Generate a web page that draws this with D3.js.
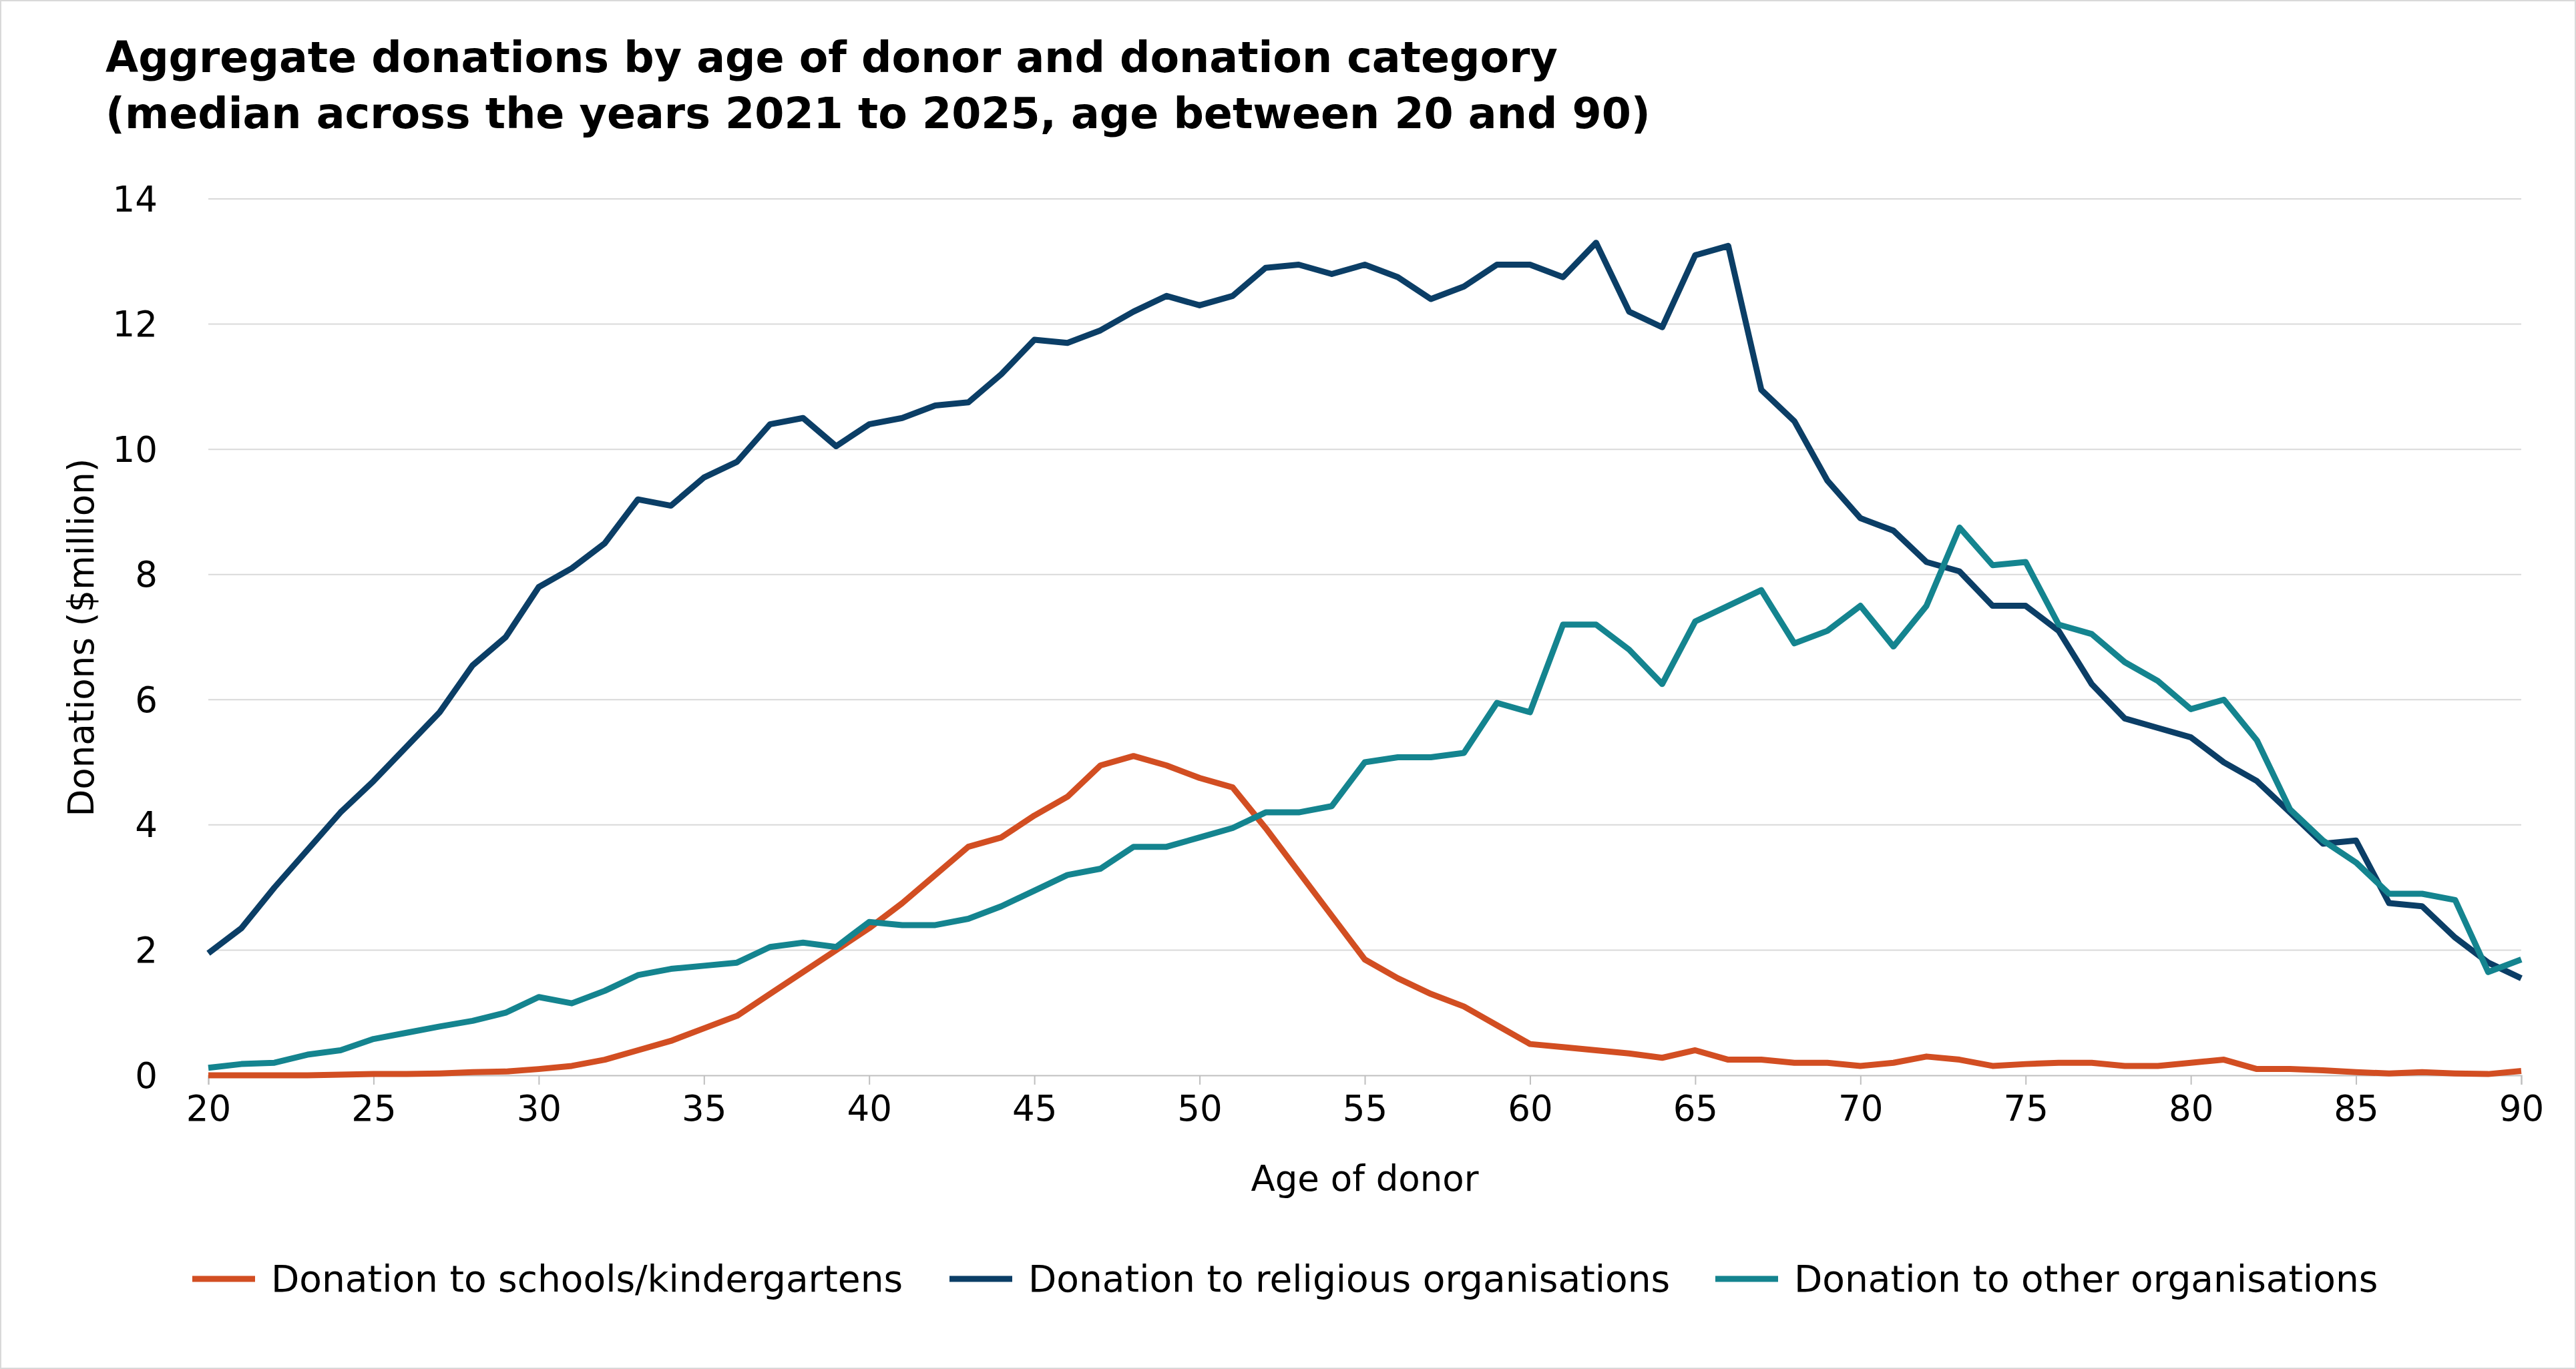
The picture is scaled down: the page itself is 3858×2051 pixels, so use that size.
<!DOCTYPE html>
<html>
<head>
<style>
  body { margin: 0; background: #fff; font-family: "DejaVu Sans", Verdana, sans-serif; }
  .grid line { stroke: #d9d9d9; stroke-width: 2px; }
  .line { fill: none; stroke-width: 9px; stroke-linejoin: round; }
</style>
</head>
<body>
<svg id="chart" width="3858" height="2051"></svg>
<script src="https://d3js.org/d3.v7.min.js"></script>
<script>
var ages = d3.range(20, 91);
var schools = [0,0,0,0,0.01,0.02,0.02,0.03,0.05,0.06,0.1,0.15,0.25,0.4,0.55,0.75,0.95,1.3,1.65,2.0,
  2.35,2.75,3.2,3.65,3.8,4.15,4.45,4.95,5.1,4.95,4.75,4.6,3.95,3.25,2.55,1.85,1.55,1.3,1.1,0.8,
  0.5,0.45,0.4,0.35,0.28,0.4,0.25,0.25,0.2,0.2,0.15,0.2,0.3,0.25,0.15,0.18,0.2,0.2,0.15,0.15,
  0.2,0.25,0.1,0.1,0.08,0.05,0.03,0.05,0.03,0.02,0.07];
var religious = [1.95,2.35,3.0,3.6,4.2,4.7,5.25,5.8,6.55,7.0,7.8,8.1,8.5,9.2,9.1,9.55,9.8,10.4,10.5,10.05,
  10.4,10.5,10.7,10.75,11.2,11.75,11.7,11.9,12.2,12.45,12.3,12.45,12.9,12.95,12.8,12.95,12.75,12.4,12.6,12.95,
  12.95,12.75,13.3,12.2,11.95,13.1,13.25,10.95,10.45,9.5,8.9,8.7,8.2,8.05,7.5,7.5,7.1,6.25,5.7,5.55,
  5.4,5.0,4.7,4.2,3.7,3.75,2.75,2.7,2.2,1.8,1.55];
var other = [0.12,0.18,0.2,0.33,0.4,0.58,0.68,0.78,0.87,1.0,1.25,1.15,1.35,1.6,1.7,1.75,1.8,2.05,2.12,2.05,
  2.45,2.4,2.4,2.5,2.7,2.95,3.2,3.3,3.65,3.65,3.8,3.95,4.2,4.2,4.3,5.0,5.08,5.08,5.15,5.95,
  5.8,7.2,7.2,6.8,6.25,7.25,7.5,7.75,6.9,7.1,7.5,6.85,7.5,8.75,8.15,8.2,7.2,7.05,6.6,6.3,
  5.85,6.0,5.35,4.25,3.75,3.4,2.9,2.9,2.8,1.65,1.85];
var seriesNames = ["Donation to schools/kindergartens", "Donation to religious organisations", "Donation to other organisations"];
var seriesColors = ["#d24e22", "#0b3e66", "#14848f"];
var yTicks = [0, 2, 4, 6, 8, 10, 12, 14];
var xTicks = [20, 25, 30, 35, 40, 45, 50, 55, 60, 65, 70, 75, 80, 85, 90];

var svg = d3.select("#chart");
svg.append("rect").attr("x", 1).attr("y", 1).attr("width", 3856).attr("height", 2049)
  .attr("fill", "#fff").attr("stroke", "#d9d9d9").attr("stroke-width", 2);

var x = d3.scaleLinear().domain([20, 90]).range([312, 3776]);
var y = d3.scaleLinear().domain([0, 14]).range([1611, 298]);

// title
var title = svg.append("text").attr("x", 158).attr("font-size", 63.5).attr("font-weight", "bold").attr("fill", "#000");
title.append("tspan").attr("x", 158).attr("y", 108).text("Aggregate donations by age of donor and donation category");
title.append("tspan").attr("x", 158).attr("y", 192).text("(median across the years 2021 to 2025, age between 20 and 90)");

// gridlines
svg.append("g").attr("class", "grid").selectAll("line").data(yTicks.slice(1)).join("line")
  .attr("x1", 312).attr("x2", 3776).attr("y1", d => y(d)).attr("y2", d => y(d));

// y axis labels
svg.append("g").selectAll("text").data(yTicks).join("text")
  .attr("x", 236).attr("y", d => y(d)).attr("dy", "0.35em").attr("text-anchor", "end")
  .attr("font-size", 53).attr("fill", "#000").text(d => d);

// x axis
var xAxis = svg.append("g").attr("transform", "translate(0," + y(0) + ")")
  .call(d3.axisBottom(x).tickValues(xTicks).tickSize(14).tickPadding(16));
xAxis.select(".domain").attr("stroke", "#bfbfbf").attr("stroke-width", 2);
xAxis.selectAll(".tick line").attr("stroke", "#bfbfbf").attr("stroke-width", 2);
xAxis.selectAll("text").attr("font-size", 53).attr("font-family", "DejaVu Sans, Verdana, sans-serif").attr("fill", "#000");

// axis titles
svg.append("text").attr("x", (312 + 3776) / 2).attr("y", 1784).attr("text-anchor", "middle")
  .attr("font-size", 53).text("Age of donor");
svg.append("text").attr("transform", "translate(140,955) rotate(-90)").attr("text-anchor", "middle")
  .attr("font-size", 53).text("Donations ($million)");

// lines
var line = d3.line().x((d, i) => x(ages[i])).y(d => y(d));
[schools, religious, other].forEach(function (s, i) {
  svg.append("path").datum(s).attr("class", "line").attr("stroke", seriesColors[i]).attr("d", line);
});

// legend
var legX = [288, 1422, 2569];
var leg = svg.append("g").selectAll("g").data(seriesNames).join("g")
  .attr("transform", (d, i) => "translate(" + legX[i] + ",1916)");
leg.append("line").attr("x1", 0).attr("x2", 94).attr("stroke", (d, i) => seriesColors[i]).attr("stroke-width", 9);
leg.append("text").attr("x", 118).attr("dy", "0.35em").attr("font-size", 55).text(d => d);
</script>
</body>
</html>
